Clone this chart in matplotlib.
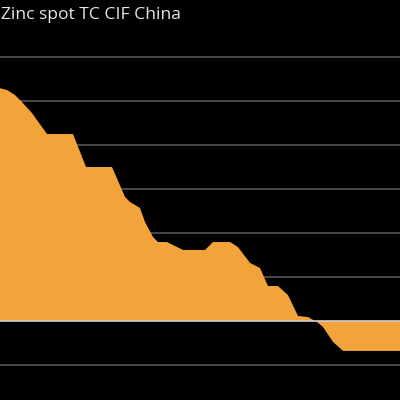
import matplotlib
matplotlib.use("Agg")
import matplotlib.pyplot as plt
import numpy as np

# x positions (relative time units) and Zinc spot TC values
week = [0, 7, 15, 22, 32, 47, 73, 86, 112, 125, 130, 140, 145, 153, 158, 167,
        183, 205, 213, 230, 238, 250, 260, 268, 278, 288, 298, 308, 317, 323,
        333, 343, 400]
tc = [105.8, 105.0, 102.7, 99.5, 94.5, 85.0, 85.0, 70.0, 70.0, 56.4, 54.1,
      51.4, 45.0, 38.2, 35.9, 35.9, 32.3, 32.3, 35.9, 35.9, 33.6, 26.4, 24.1,
      15.9, 15.9, 11.8, 2.3, 1.8, -0.5, -2.7, -9.5, -13.6, -13.6]
gridvals = [-20, 20, 40, 60, 80, 100, 120]
title = "Zinc spot TC CIF China"

fig = plt.figure(figsize=(4, 4), dpi=100, facecolor="black")
ax = fig.add_axes([0, 0, 1, 355 / 400])
ax.set_facecolor("black")
ax.set_xlim(0, 400)
ax.set_ylim(-35.9, 125.45)

for g in gridvals:
    ax.axhline(g, color="#555555", lw=1.2, zorder=1)
ax.fill_between(week, tc, 0, color="#f2a33a", lw=0, zorder=2)
ax.axhline(0, color="#cfcfcf", lw=1.2, zorder=3)

for s in ax.spines.values():
    s.set_visible(False)
ax.set_xticks([])
ax.set_yticks([])

fig.text(0.002, 1 - 19 / 400, title, color="#e6e6e6", fontsize=12.6,
         family="Open Sans", ha="left", va="baseline")

fig.savefig("out.png", dpi=100, facecolor="black")
